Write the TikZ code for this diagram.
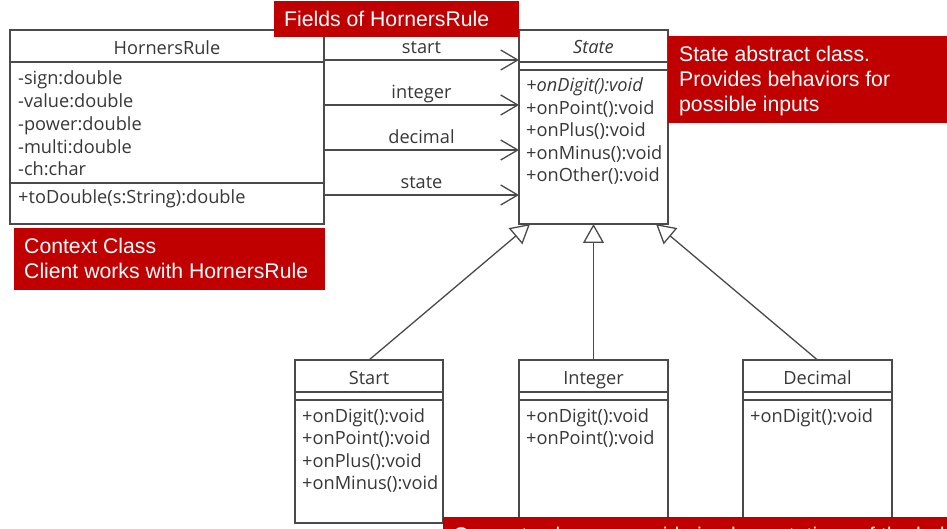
\documentclass[tikz,border=0pt]{standalone}
\usepackage{fontspec}
\setmainfont{Open Sans}
\newfontfamily\calloutfont{Liberation Sans}
\usetikzlibrary{arrows.meta}
\definecolor{umlgray}{HTML}{4A4A4A}
\definecolor{umltext}{HTML}{383838}
\definecolor{calloutred}{HTML}{C00000}

\begin{document}
\begin{tikzpicture}[x=1pt,y=-1pt,
  classbox/.style={draw=umlgray, line width=1.3pt, fill=white, anchor=north west,
    inner sep=0pt, outer sep=0pt},
  divider/.style={draw=umlgray, line width=1.3pt},
  member/.style={anchor=base west, inner sep=0pt, text=umltext,
    font=\fontsize{18.2}{21}\selectfont},
  classname/.style={anchor=base, inner sep=0pt, text=umltext,
    font=\fontsize{18.2}{21}\selectfont},
  linklabel/.style={anchor=base, inner sep=0pt, text=umltext, yshift=6pt,
    font=\fontsize{18.2}{21}\selectfont},
  assoc/.style={draw=umlgray, line width=1.3pt,
    -{Straight Barb[length=17pt,width=20pt]}},
  inherit/.style={draw=umlgray, line width=1.3pt,
    -{Triangle[open, length=19pt, width=21pt, fill=white]}},
  callout/.style={fill=calloutred, inner sep=0pt, outer sep=0pt, anchor=north west},
  callouttext/.style={anchor=base west, inner sep=0pt, text=white,
    font=\calloutfont\fontsize{21.2}{25}\selectfont},
]
\clip (0,0) rectangle (947,529);
\fill[white] (0,0) rectangle (947,529);

% ---- context class ----
\node[classbox, minimum width=314pt, minimum height=194pt] (hr) at (10,30) {};
\draw[divider] ([yshift=-32pt]hr.north west) -- ([yshift=-32pt]hr.north east);
\draw[divider] ([yshift=-153pt]hr.north west) -- ([yshift=-153pt]hr.north east);
\node[classname] (hrname) at (167,55) {HornersRule};
\foreach \m [count=\i] in {-sign:double,-value:double,-power:double,-multi:double,-ch:char}
  \node[member] (hrattr\i) at (18,{85+22.7*(\i-1)}) {\m};
\node[member] (hrop) at (18,204) {+toDouble(s:String):double};

% ---- abstract state ----
\node[classbox, minimum width=149pt, minimum height=194pt] (state) at (519,30) {};
\draw[divider] ([yshift=-32pt]state.north west) -- ([yshift=-32pt]state.north east);
\draw[divider] ([yshift=-40pt]state.north west) -- ([yshift=-40pt]state.north east);
\node[classname] (statename) at (593.5,54) {\itshape State};
\node[member] (stateop1) at (526,92) {\itshape +onDigit():void};
\foreach \m [count=\i from 2] in {+onPoint():void,+onPlus():void,+onMinus():void,+onOther():void}
  \node[member] (stateop\i) at (526,{92+22.5*(\i-1)}) {\m};

% ---- concrete states ----
\node[classbox, minimum width=148pt, minimum height=163pt] (start) at (295,360) {};
\node[classbox, minimum width=149pt, minimum height=200pt] (integer) at (519,360) {};
\node[classbox, minimum width=149pt, minimum height=200pt] (decimal) at (743,360) {};
\foreach \c in {start,integer,decimal} {
  \draw[divider] ([yshift=-32pt]\c.north west) -- ([yshift=-32pt]\c.north east);
  \draw[divider] ([yshift=-40pt]\c.north west) -- ([yshift=-40pt]\c.north east);
}
\node[classname] (startname) at (369,384) {Start};
\node[classname] (integername) at (593.5,384) {Integer};
\node[classname] (decimalname) at (817.5,384) {Decimal};
\foreach \m [count=\i] in {+onDigit():void,+onPoint():void,+onPlus():void,+onMinus():void}
  \node[member] (startop\i) at (302,{422+22.5*(\i-1)}) {\m};
\foreach \m [count=\i] in {+onDigit():void,+onPoint():void}
  \node[member] (integerop\i) at (526,{422+22.5*(\i-1)}) {\m};
\node[member] (decimalop1) at (750,422) {+onDigit():void};

% ---- fields of the context ----
\draw[assoc] ([yshift=-30pt]hr.north east) -- ([yshift=-30pt]state.north west)
  node[midway, linklabel] (lstart) {start};
\draw[assoc] ([yshift=-75pt]hr.north east) -- ([yshift=-75pt]state.north west)
  node[midway, linklabel] (linteger) {integer};
\draw[assoc] ([yshift=-120pt]hr.north east) -- ([yshift=-120pt]state.north west)
  node[midway, linklabel] (ldecimal) {decimal};
\draw[assoc] ([yshift=-165pt]hr.north east) -- ([yshift=-165pt]state.north west)
  node[midway, linklabel] (lstate) {state};

% ---- generalisation ----
\draw[inherit] (start.north) -- ([xshift=11pt]state.south west);
\draw[inherit] (integer.north) -- (state.south);
\draw[inherit] (decimal.north) -- ([xshift=-12pt]state.south east);

% ---- callouts ----
\node[callout, minimum width=245pt, minimum height=36pt] (fields) at (274,1) {};
\node[callouttext] (fieldstext) at (284,27) {Fields of HornersRule};

\node[callout, minimum width=311pt, minimum height=62pt] (context) at (14,228) {};
\node[callouttext] (contexttext1) at (24,254) {Context Class};
\node[callouttext] (contexttext2) at (24,278) {Client works with HornersRule};

\node[callout, minimum width=279pt, minimum height=87pt] (abstract) at (668,36) {};
\node[callouttext] (abstracttext1) at (679,62) {State abstract class.};
\node[callouttext] (abstracttext2) at (679,87) {Provides behaviors for};
\node[callouttext] (abstracttext3) at (679,112) {possible inputs};

\node[callout, minimum width=504pt, minimum height=40pt] (concrete) at (443,517) {};
\node[callouttext] (concretetext) at (453,542) {Concrete classes provide implementations of the behaviors};
\end{tikzpicture}
\end{document}
